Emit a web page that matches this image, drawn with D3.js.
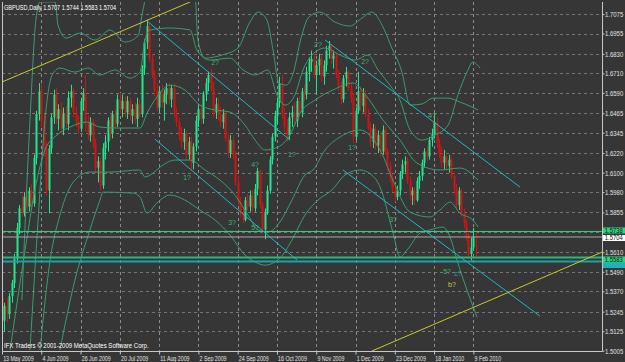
<!DOCTYPE html>
<html>
<head>
<meta charset="utf-8">
<script src="https://cdn.jsdelivr.net/npm/d3@7"></script>
<style>
body { margin: 0; background: #363636; }
svg { display: block; }
text { font-family: "Liberation Sans", Arial, sans-serif; }
</style>
</head>
<body>
<div id="chart"></div>
<script>
// --- data ---
const dateLabels = ["13 May 2009", "4 Jun 2009", "26 Jun 2009", "20 Jul 2009", "11 Aug 2009", "2 Sep 2009",
  "24 Sep 2009", "16 Oct 2009", "9 Nov 2009", "1 Dec 2009", "23 Dec 2009", "18 Jan 2010", "9 Feb 2010"]
const dateIndex = [0, 16, 32, 48, 64, 80, 96, 112, 128, 144, 160, 176, 192]
const priceTicks = [1.7075, 1.6955, 1.6830, 1.6710, 1.6590, 1.6465, 1.6345, 1.6220, 1.6100,
  1.5980, 1.5855, 1.5735, 1.5610, 1.5490, 1.5370, 1.5245, 1.5125, 1.5005]
// 1.5735 sits under the price boxes, so it gets a grid line but no label
const hiddenTick = 1.5735

const open = [1.5330,1.5190,1.5280,1.5230,1.5340,1.5420,1.5570,1.5760,1.5890,1.5850,1.5950,1.5890,1.5990,1.5910,1.6190,1.6460,
  1.6610,1.6420,1.6240,1.5990,1.6250,1.6440,1.6580,1.6430,1.6490,1.6370,1.6460,1.6400,1.6560,1.6600,1.6470,1.6410,
  1.6370,1.6540,1.6590,1.6400,1.6330,1.6410,1.6280,1.6130,1.6170,1.6020,1.6250,1.6290,1.6420,1.6340,1.6460,1.6400,
  1.6550,1.6490,1.6540,1.6470,1.6540,1.6450,1.6490,1.6430,1.6520,1.6460,1.6740,1.6900,1.7000,1.6800,1.6700,1.6600,
  1.6500,1.6600,1.6530,1.6580,1.6620,1.6550,1.6620,1.6460,1.6410,1.6330,1.6290,1.6340,1.6210,1.6290,1.6160,1.6260,
  1.6420,1.6490,1.6430,1.6580,1.6650,1.6700,1.6620,1.6470,1.6520,1.6450,1.6410,1.6460,1.6310,1.6220,1.6300,1.6210,
  1.6040,1.5920,1.5860,1.5810,1.5930,1.5890,1.5960,1.5880,1.6000,1.6110,1.5900,1.5750,1.5860,1.5990,1.6180,1.6320,
  1.6450,1.6530,1.6650,1.6460,1.6380,1.6330,1.6440,1.6470,1.6420,1.6540,1.6470,1.6600,1.6580,1.6720,1.6780,1.6800,
  1.6700,1.6760,1.6800,1.6690,1.6760,1.6850,1.6880,1.6800,1.6820,1.6700,1.6630,1.6550,1.6680,1.6720,1.6620,1.6560,
  1.6320,1.6480,1.6600,1.6510,1.6590,1.6460,1.6380,1.6290,1.6370,1.6270,1.6330,1.6230,1.6360,1.6230,1.6140,1.6070,
  1.6000,1.5950,1.5990,1.6090,1.6150,1.6170,1.6050,1.5960,1.5990,1.5930,1.6050,1.6080,1.6160,1.6230,1.6200,1.6300,
  1.6340,1.6410,1.6280,1.6220,1.6160,1.6200,1.6140,1.6180,1.6080,1.6000,1.5900,1.5990,1.5850,1.5790,1.5700,1.5600,
  1.5640,1.5707]
const high = [1.5370,1.5300,1.5330,1.5360,1.5440,1.5600,1.5790,1.5900,1.5960,1.5980,1.5990,1.6010,1.6030,1.6210,1.6480,1.6650,
  1.6650,1.6460,1.6290,1.6270,1.6460,1.6610,1.6620,1.6520,1.6530,1.6500,1.6510,1.6600,1.6640,1.6620,1.6510,1.6450,
  1.6560,1.6620,1.6700,1.6450,1.6440,1.6430,1.6310,1.6200,1.6190,1.6280,1.6330,1.6440,1.6450,1.6480,1.6490,1.6580,
  1.6590,1.6580,1.6570,1.6570,1.6560,1.6520,1.6530,1.6560,1.6550,1.6760,1.6920,1.7040,1.7020,1.6830,1.6730,1.6650,
  1.6630,1.6640,1.6610,1.6650,1.6650,1.6640,1.6650,1.6500,1.6440,1.6380,1.6370,1.6360,1.6320,1.6320,1.6280,1.6450,
  1.6520,1.6520,1.6600,1.6680,1.6720,1.6740,1.6660,1.6560,1.6560,1.6500,1.6490,1.6480,1.6340,1.6330,1.6320,1.6230,
  1.6080,1.5950,1.5890,1.5950,1.5970,1.5990,1.5990,1.6030,1.6130,1.6120,1.5920,1.5880,1.6020,1.6200,1.6340,1.6480,
  1.6560,1.6690,1.6700,1.6500,1.6430,1.6470,1.6510,1.6530,1.6560,1.6570,1.6620,1.6640,1.6750,1.6810,1.6850,1.6830,
  1.6790,1.6830,1.6820,1.6790,1.6880,1.6910,1.6890,1.6850,1.6840,1.6730,1.6660,1.6700,1.6750,1.6730,1.6650,1.6590,
  1.6500,1.6720,1.6630,1.6620,1.6610,1.6490,1.6410,1.6400,1.6390,1.6360,1.6350,1.6390,1.6380,1.6250,1.6170,1.6090,
  1.6030,1.6020,1.6110,1.6180,1.6200,1.6190,1.6080,1.6010,1.6010,1.6070,1.6110,1.6180,1.6250,1.6260,1.6320,1.6370,
  1.6460,1.6440,1.6310,1.6260,1.6240,1.6230,1.6210,1.6200,1.6100,1.6030,1.6010,1.6000,1.5880,1.5810,1.5730,1.5700,
  1.5760,1.5744]
const low = [1.5160,1.5120,1.5180,1.5200,1.5300,1.5390,1.5540,1.5720,1.5830,1.5830,1.5870,1.5860,1.5870,1.5890,1.6150,1.6420,
  1.6380,1.6200,1.5960,1.5850,1.6220,1.6400,1.6400,1.6360,1.6340,1.6330,1.6380,1.6360,1.6500,1.6440,1.6380,1.6340,
  1.6350,1.6480,1.6350,1.6300,1.6290,1.6250,1.6100,1.6040,1.5990,1.6000,1.6180,1.6230,1.6300,1.6310,1.6370,1.6380,
  1.6460,1.6440,1.6440,1.6430,1.6420,1.6400,1.6400,1.6380,1.6440,1.6440,1.6700,1.6860,1.6780,1.6680,1.6570,1.6480,
  1.6470,1.6500,1.6420,1.6520,1.6520,1.6500,1.6440,1.6380,1.6300,1.6250,1.6240,1.6180,1.6180,1.6110,1.6120,1.6230,
  1.6380,1.6400,1.6400,1.6540,1.6600,1.6600,1.6440,1.6430,1.6420,1.6380,1.6370,1.6290,1.6190,1.6190,1.6180,1.6020,
  1.5900,1.5830,1.5790,1.5800,1.5870,1.5860,1.5850,1.5860,1.5960,1.5880,1.5720,1.5690,1.5840,1.5970,1.6150,1.6290,
  1.6400,1.6500,1.6430,1.6350,1.6290,1.6300,1.6380,1.6390,1.6380,1.6440,1.6440,1.6540,1.6550,1.6660,1.6720,1.6680,
  1.6580,1.6700,1.6660,1.6640,1.6720,1.6800,1.6770,1.6740,1.6680,1.6600,1.6520,1.6530,1.6630,1.6600,1.6530,1.6280,
  1.6300,1.6460,1.6480,1.6470,1.6440,1.6360,1.6260,1.6250,1.6240,1.6220,1.6200,1.6210,1.6210,1.6110,1.6040,1.5980,
  1.5920,1.5930,1.5960,1.6060,1.6100,1.6030,1.5930,1.5900,1.5900,1.5920,1.6000,1.6050,1.6130,1.6170,1.6180,1.6260,
  1.6310,1.6250,1.6190,1.6130,1.6120,1.6110,1.6100,1.6060,1.5970,1.5880,1.5870,1.5830,1.5760,1.5680,1.5570,1.5560,
  1.5620,1.5583]
const close = [1.5190,1.5280,1.5230,1.5340,1.5420,1.5570,1.5760,1.5880,1.5850,1.5950,1.5890,1.5990,1.5910,1.6190,1.6460,1.6600,
  1.6420,1.6240,1.5990,1.6250,1.6440,1.6580,1.6430,1.6490,1.6370,1.6460,1.6400,1.6560,1.6600,1.6470,1.6410,1.6370,
  1.6540,1.6590,1.6400,1.6330,1.6410,1.6280,1.6130,1.6170,1.6020,1.6250,1.6290,1.6420,1.6340,1.6460,1.6400,1.6550,
  1.6490,1.6540,1.6470,1.6540,1.6450,1.6490,1.6430,1.6520,1.6460,1.6740,1.6900,1.7000,1.6800,1.6700,1.6600,1.6500,
  1.6600,1.6530,1.6580,1.6620,1.6550,1.6620,1.6460,1.6410,1.6330,1.6290,1.6340,1.6210,1.6290,1.6160,1.6260,1.6420,
  1.6490,1.6430,1.6580,1.6650,1.6700,1.6620,1.6470,1.6520,1.6450,1.6410,1.6460,1.6310,1.6220,1.6300,1.6210,1.6040,
  1.5920,1.5860,1.5810,1.5930,1.5890,1.5960,1.5880,1.6000,1.6110,1.5900,1.5750,1.5860,1.5990,1.6180,1.6320,1.6450,
  1.6530,1.6650,1.6460,1.6380,1.6330,1.6440,1.6470,1.6420,1.6540,1.6470,1.6600,1.6580,1.6720,1.6780,1.6800,1.6700,
  1.6760,1.6800,1.6690,1.6760,1.6850,1.6880,1.6800,1.6820,1.6700,1.6630,1.6550,1.6680,1.6720,1.6620,1.6560,1.6320,
  1.6480,1.6600,1.6510,1.6590,1.6460,1.6380,1.6290,1.6370,1.6270,1.6330,1.6230,1.6360,1.6230,1.6140,1.6070,1.6000,
  1.5950,1.5990,1.6090,1.6150,1.6170,1.6050,1.5960,1.5990,1.5930,1.6050,1.6080,1.6160,1.6230,1.6200,1.6300,1.6340,
  1.6410,1.6280,1.6220,1.6160,1.6200,1.6140,1.6180,1.6080,1.6000,1.5900,1.5990,1.5850,1.5790,1.5700,1.5600,1.5640,
  1.5707,1.5704]

// indicator lines, [bar index, price] pairs
const bandOuterUp = [[8.1,1.5316],[11.4,1.6423],[13.8,1.7038],[15.5,1.7149],[21.6,1.7149],[22.8,1.7007],[26.1,1.6927],
  [31.8,1.6958],[37.9,1.6915],[44.0,1.6977],[50.1,1.6903],[55.4,1.6940],[57.4,1.7100],[59.1,1.7192],[78.6,1.7192],
  [79.8,1.6915],[82.7,1.6804],[89.6,1.6823],[96.1,1.6866],[101.0,1.7026],[104.3,1.7087],[107.9,1.7038],[110.4,1.6854],
  [112.8,1.6651],[115.7,1.6638],[118.5,1.6706],[121.8,1.6927],[125.0,1.7057],[129.5,1.7087],[135.6,1.7026],
  [141.7,1.7001],[146.6,1.7050],[150.7,1.7087],[154.8,1.7007],[158.8,1.6866],[162.9,1.6718],[166.2,1.6515],
  [171.1,1.6522],[175.5,1.6558],[181.7,1.6558],[186.5,1.6534],[190.6,1.6509],[193.9,1.6485]]
const bandUp = [[11.4,1.5009],[14.7,1.5808],[17.5,1.6423],[20.4,1.6700],[23.6,1.6743],[29.7,1.6718],[35.0,1.6743],
  [39.9,1.6700],[46.0,1.6731],[52.1,1.6681],[56.2,1.6718],[58.2,1.6915],[60.3,1.6977],[68.4,1.6989],[76.6,1.6977],
  [79.4,1.6854],[84.7,1.6792],[92.9,1.6804],[98.2,1.6731],[103.1,1.6700],[108.3,1.6731],[112.0,1.6577],[115.3,1.6515],
  [119.3,1.6577],[122.6,1.6731],[126.3,1.6823],[131.6,1.6866],[137.7,1.6823],[143.8,1.6792],[149.1,1.6823],
  [153.2,1.6731],[158.0,1.6638],[162.1,1.6546],[166.2,1.6362],[171.1,1.6300],[176.4,1.6331],[181.7,1.6392],
  [185.7,1.6577],[189.4,1.6718],[191.8,1.6780],[194.7,1.6743]]
const bandMid = [[3.3,1.5009],[9.4,1.5624],[13.4,1.5993],[17.5,1.6239],[22.4,1.6331],[27.7,1.6380],[34.6,1.6411],
  [39.9,1.6380],[46.8,1.6374],[56.2,1.6374],[59.1,1.6466],[63.1,1.6565],[68.4,1.6638],[74.5,1.6608],[80.6,1.6515],
  [86.8,1.6485],[92.9,1.6472],[99.0,1.6392],[103.1,1.6300],[107.1,1.6239],[112.4,1.6257],[117.3,1.6331],
  [121.4,1.6466],[127.5,1.6546],[134.8,1.6608],[143.0,1.6651],[148.7,1.6565],[155.2,1.6423],[162.1,1.6300],
  [169.0,1.6159],[178.4,1.6116],[186.5,1.6128],[193.9,1.6054]]
const bandLow = [[15.5,1.5009],[19.6,1.5562],[23.6,1.5839],[29.7,1.6054],[35.8,1.6103],[44.0,1.6103],[56.2,1.6116],
  [58.2,1.6073],[61.5,1.6097],[64.4,1.6134],[70.5,1.6177],[76.6,1.6177],[82.7,1.6116],[88.8,1.6054],[94.9,1.5962],
  [100.2,1.5839],[104.3,1.5747],[108.3,1.5734],[113.2,1.5796],[118.1,1.5931],[123.4,1.6085],[126.7,1.6116],
  [131.6,1.6239],[137.7,1.6319],[145.8,1.6362],[154.0,1.6239],[160.1,1.6023],[166.2,1.5857],[174.3,1.5827],
  [178.4,1.5870],[182.5,1.5919],[186.5,1.5851],[191.8,1.5808],[193.9,1.5765]]
const bandOuterLow = [[23.6,1.5009],[29.7,1.5439],[35.8,1.5747],[39.9,1.5931],[41.1,1.5980],[53.4,1.5974],[56.2,1.5950],
  [59.1,1.5851],[63.1,1.5913],[68.4,1.5962],[74.5,1.5931],[80.6,1.5870],[86.8,1.5808],[92.9,1.5716],[99.0,1.5593],
  [103.1,1.5550],[107.1,1.5531],[113.2,1.5574],[118.1,1.5685],[123.4,1.5839],[128.7,1.5931],[134.4,1.5993],
  [139.7,1.6085],[145.8,1.6116],[151.9,1.6066],[154.0,1.6011],[159.3,1.5728],[162.1,1.5581],[165.0,1.5624],
  [170.3,1.5728],[174.3,1.5747],[179.6,1.5765],[182.5,1.5704],[185.3,1.5562],[189.4,1.5378],[193.5,1.5211]]

// drawn objects: [bar index, price] pairs
const channelLines = [
  [[59.1, 1.7032], [117.3, 1.6300]],
  [[62.3, 1.6306], [120.2, 1.5562]],
  [[131.6, 1.6915], [211.0, 1.6011]],
  [[138.9, 1.6116], [219.1, 1.5218]]
]
const yellowLines = [
  [[0, 1.6657], [76.6, 1.7149]],
  [[150.7, 1.5003], [244.4, 1.5611]]
]
const levelPrices = [1.5738, 1.5704, 1.5578, 1.5553]
const levelLabels = ["1.5738", "1.5704", "1.5583", ""]
const levelColors = ["#2fd483", "#a8a8a8", "#2bb57a", "#1aa2aa"]
const waveText = ["2?", "4?", "1?", "3?", "5?", "1?", "2?", "2?", "1?", "3?", "4?", "5?", "c?", "b?"]
const waveIndex = [86.8, 103.1, 75.4, 93.7, 103.1, 118.1, 128.7, 147.9, 142.6, 159.3, 175.2, 181.3, 185.7, 183.3]
const wavePrice = [1.6774, 1.6146, 1.6066, 1.5790, 1.5759, 1.6208, 1.6884, 1.6780, 1.6251, 1.5808, 1.6448, 1.5488, 1.5476, 1.5408]
const waveColor = ["#3cb371", "#3cb371", "#3cb371", "#3cb371", "#3cb371", "#3cb371", "#3cb371", "#3cb371", "#3cb371",
  "#3cb371", "#3cb371", "#3cb371", "#2aa7a0", "#c8c832"]

// --- layout ---
const W = 625, H = 362
const plot = {left: 2, right: 602, top: 2, bottom: 351}

const x = d3.scaleLinear().domain([0, 244.4]).range([plot.left, plot.right])
const y = d3.scaleLinear().domain([1.5003, 1.7149]).range([plot.bottom, plot.top])

// the screenshot font is narrow: squash texts horizontally
const narrow = k => `scale(${k},1)`

const svg = d3.select("#chart").append("svg")
    .attr("width", W)
    .attr("height", H)

svg.append("rect").attr("width", W).attr("height", H).attr("fill", "#363636")

svg.append("clipPath").attr("id", "clip")
  .append("rect")
    .attr("x", plot.left).attr("y", plot.top)
    .attr("width", plot.right - plot.left).attr("height", plot.bottom - plot.top)

const g = svg.append("g").attr("clip-path", "url(#clip)")

// grid
g.selectAll(".hgrid").data(priceTicks).join("line")
    .attr("x1", plot.left).attr("x2", plot.right)
    .attr("y1", d => Math.round(y(d)) + 0.5).attr("y2", d => Math.round(y(d)) + 0.5)
    .attr("stroke", "#767676").attr("stroke-dasharray", "3,3")

g.selectAll(".vgrid").data(dateIndex).join("line")
    .attr("x1", d => Math.round(x(d)) + 0.5).attr("x2", d => Math.round(x(d)) + 0.5)
    .attr("y1", plot.top).attr("y2", plot.bottom)
    .attr("stroke", "#8c8c8c").attr("stroke-dasharray", "3,3")

// candles
const bars = d3.range(open.length).map(i => ({i, o: open[i], h: high[i], l: low[i], c: close[i]}))
const colorOf = d => d.c >= d.o ? "#1fe88e" : "#d41212"

g.selectAll(".wick").data(bars).join("line")
    .attr("x1", d => Math.round(x(d.i)) + 0.5).attr("x2", d => Math.round(x(d.i)) + 0.5)
    .attr("y1", d => y(d.h)).attr("y2", d => y(d.l))
    .attr("stroke", colorOf)

g.selectAll(".body").data(bars).join("rect")
    .attr("x", d => Math.round(x(d.i)) - 0.5)
    .attr("width", 2)
    .attr("y", d => y(Math.max(d.o, d.c)))
    .attr("height", d => Math.max(1, Math.abs(y(d.o) - y(d.c))))
    .attr("fill", colorOf)

// band lines
const bands = [bandOuterUp, bandUp, bandMid, bandLow, bandOuterLow]
const bandLine = d3.line().curve(d3.curveMonotoneX).x(d => x(d[0])).y(d => y(d[1]))
g.selectAll(".band").data(bands).join("path")
    .attr("d", bandLine).attr("fill", "none")
    .attr("stroke", "#3a9c70").attr("stroke-width", 1)

// horizontal levels
g.selectAll(".level").data(levelPrices).join("line")
    .attr("x1", plot.left).attr("x2", plot.right)
    .attr("y1", d => y(d)).attr("y2", d => y(d))
    .attr("stroke", (d, i) => levelColors[i])
    .attr("stroke-width", (d, i) => i >= 2 ? 2 : 1)

// channel and trend lines
const seg = d3.line().x(d => x(d[0])).y(d => y(d[1]))
g.selectAll(".channel").data(channelLines).join("path")
    .attr("d", seg).attr("fill", "none").attr("stroke", "#22b6c2").attr("stroke-width", 1)
g.selectAll(".yellow").data(yellowLines).join("path")
    .attr("d", seg).attr("fill", "none").attr("stroke", "#c9c92a").attr("stroke-width", 1)

// wave labels
g.selectAll(".wave").data(waveText).join("text")
    .attr("x", (d, i) => x(waveIndex[i])).attr("y", (d, i) => y(wavePrice[i]))
    .attr("fill", (d, i) => waveColor[i])
    .attr("font-size", 7).attr("text-anchor", "middle").attr("dominant-baseline", "middle")
    .text(d => d)

// frame
svg.append("path")
    .attr("d", `M${plot.left + 0.5},${plot.top} V${plot.bottom + 0.5} H${plot.right + 0.5} V${plot.top}`)
    .attr("fill", "none").attr("stroke", "#c8c8c8")

// price axis
const yAxis = svg.append("g")
    .attr("transform", `translate(${plot.right + 0.5},0)`)
    .call(d3.axisRight(y).tickValues(priceTicks)
      .tickFormat(d => d === hiddenTick ? "" : d3.format(".4f")(d)).tickSize(2).tickPadding(1))
yAxis.select(".domain").remove()
yAxis.selectAll("line").attr("stroke", "#c8c8c8")
yAxis.selectAll("text").attr("fill", "#e0e0e0").attr("font-size", 7.5)
  .attr("font-family", "Liberation Sans, Arial, sans-serif")
  .attr("transform", narrow(0.8))

// time axis
const xAxis = svg.append("g")
    .attr("transform", `translate(0,${plot.bottom + 0.5})`)
    .call(d3.axisBottom(x).tickValues(dateIndex).tickFormat((d, i) => dateLabels[i]).tickSize(3).tickPadding(1))
xAxis.select(".domain").remove()
xAxis.selectAll("line").attr("stroke", "#c8c8c8")
xAxis.selectAll("text").attr("fill", "#e0e0e0").attr("font-size", 8).attr("text-anchor", "start").attr("dx", 1)
  .attr("font-family", "Liberation Sans, Arial, sans-serif")
  .attr("transform", narrow(0.66))

// price label boxes on the right (the lower one is covered in the picture, drawn first)
const boxFill = ["#2fd483", "#ffffff", "#2fd483", "#1fb0b8"]
const boxShift = [-1, 1, 2, 3.5]
const order = [3, 1, 0, 2]
const boxes = svg.selectAll(".pbox").data(order).join("g")
    .attr("transform", i => `translate(${plot.right + 1},${y(levelPrices[i]) + boxShift[i]})`)
boxes.append("rect").attr("x", 0).attr("y", -3).attr("width", 22).attr("height", 6)
    .attr("fill", i => boxFill[i])
boxes.append("text").attr("x", 2).attr("y", 0.5).attr("dominant-baseline", "middle")
    .attr("font-size", 6.5).attr("fill", "#111").text(i => levelLabels[i])
    .attr("transform", narrow(0.9))

// header and copyright
svg.append("text").attr("transform", `translate(4,10) ${narrow(0.7)}`)
    .attr("font-size", 8).attr("fill", "#ffffff")
    .text("GBPUSD,Daily  1.5707 1.5744 1.5583 1.5704")
svg.append("text").attr("transform", `translate(4,348) ${narrow(0.755)}`)
    .attr("font-size", 8).attr("fill", "#ffffff")
    .text("IFX Traders © 2001-2009 MetaQuotes Software Corp.")
</script>
</body>
</html>
